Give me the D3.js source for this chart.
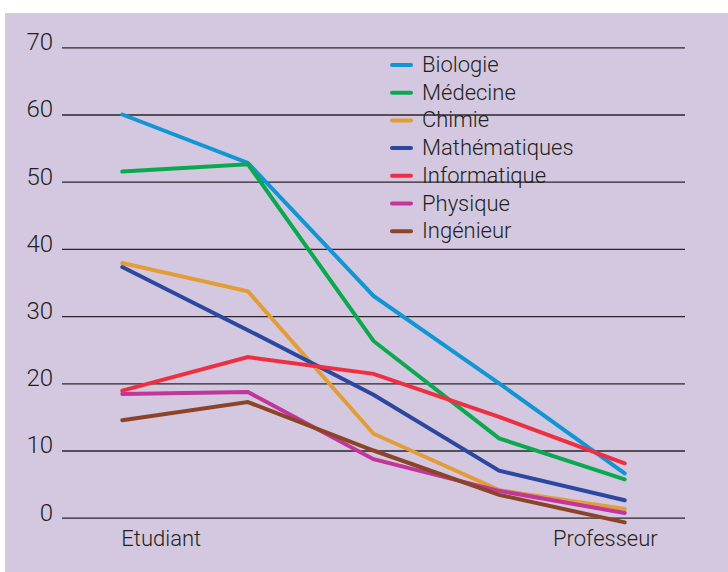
<!DOCTYPE html>
<html>
<head>
<meta charset="utf-8">
<script src="https://cdn.jsdelivr.net/npm/d3@7/dist/d3.min.js"></script>
<style>
  html, body { margin: 0; padding: 0; background: #ffffff; }
  svg { display: block; }
  text { font-family: Roboto, "Liberation Sans", Arial, sans-serif; font-weight: 300; fill: #231f20; }
</style>
</head>
<body>
<svg id="chart" width="728" height="572"></svg>
<script>
// Career stages along the x axis (only the two ends are labelled)
const stages = [0, 1, 2, 3, 4];
const stageLabels = ["Etudiant", "", "", "", "Professeur"];

// Share (%) by discipline at each stage
const biologie      = [60.0, 52.8, 33.0, 20.0, 6.6];
const medecine      = [51.5, 52.6, 26.3, 11.8, 5.7];
const chimie        = [37.9, 33.7, 12.5, 4.1, 1.3];
const mathematiques = [37.3, 27.9, 18.3, 7.0, 2.6];
const informatique  = [18.9, 23.9, 21.4, 15.0, 8.1];
const physique      = [18.4, 18.7, 8.7, 4.0, 0.7];
const ingenieur     = [14.5, 17.2, 10.0, 3.4, -0.7];

const seriesNames = ["Biologie", "Médecine", "Chimie", "Mathématiques", "Informatique", "Physique", "Ingénieur"];
const seriesValues = [biologie, medecine, chimie, mathematiques, informatique, physique, ingenieur];
const seriesColors = ["#1196d5", "#0aa84f", "#e39d37", "#2b479f", "#ee2f42", "#c0369a", "#8b4427"];

const yTicks = [0, 10, 20, 30, 40, 50, 60, 70];

const svg = d3.select("#chart");

// Lavender panel
svg.append("rect")
  .attr("x", 5).attr("y", 13)
  .attr("width", 723).attr("height", 559)
  .attr("fill", "#d3c8df");

const x = d3.scalePoint().domain(stages).range([62, 685]).padding(0.48);
const y = d3.scaleLinear().domain([0, 70]).range([517.7, 47.3]);

// Horizontal gridlines with their values on the left
const yAxis = d3.axisLeft(y)
  .tickValues(yTicks)
  .tickSize(-(685 - 62))
  .tickPadding(9)
  .tickFormat(d3.format("d"));

const gy = svg.append("g")
  .attr("transform", "translate(62,0)")
  .call(yAxis);
gy.select(".domain").remove();
gy.selectAll(".tick line")
  .attr("stroke", "#2a262b")
  .attr("stroke-width", 1.3);
gy.selectAll(".tick text")
  .attr("x", -9)
  .attr("dy", "0.1em")
  .style("font-size", "24px")
  .style("font-family", "Roboto, \"Liberation Sans\", Arial, sans-serif")
  .style("font-weight", 300)
  .attr("fill", "#231f20");

// Stage labels under the plot
const labelOffsets = [-1, 0, 0, 0, 33];
const labelAnchors = ["start", "middle", "middle", "middle", "end"];
svg.append("g")
  .selectAll("text")
  .data(stages.filter((d, i) => stageLabels[i] !== ""))
  .join("text")
  .attr("x", d => x(d) + labelOffsets[d])
  .attr("y", 546)
  .attr("text-anchor", d => labelAnchors[d])
  .style("font-size", "22px")
  .text(d => stageLabels[d]);

// Series lines
const line = d3.line()
  .x((d, i) => x(stages[i]))
  .y(d => y(d));

svg.append("g")
  .selectAll("path")
  .data(seriesValues)
  .join("path")
  .attr("d", d => line(d))
  .attr("fill", "none")
  .attr("stroke", (d, i) => seriesColors[i])
  .attr("stroke-width", 4)
  .attr("stroke-linejoin", "miter")
  .attr("stroke-linecap", "round");

// Legend
const legend = svg.append("g").attr("transform", "translate(391,65)");
const rows = legend.selectAll("g")
  .data(seriesNames)
  .join("g")
  .attr("transform", (d, i) => `translate(0,${i * 27.7})`);
rows.append("line")
  .attr("x1", 1).attr("x2", 20)
  .attr("y1", 0).attr("y2", 0)
  .attr("stroke", (d, i) => seriesColors[i])
  .attr("stroke-width", 4)
  .attr("stroke-linecap", "round");
rows.append("text")
  .attr("x", 31)
  .attr("y", 7)
  .style("font-size", "22px")
  .text(d => d);
</script>
</body>
</html>
